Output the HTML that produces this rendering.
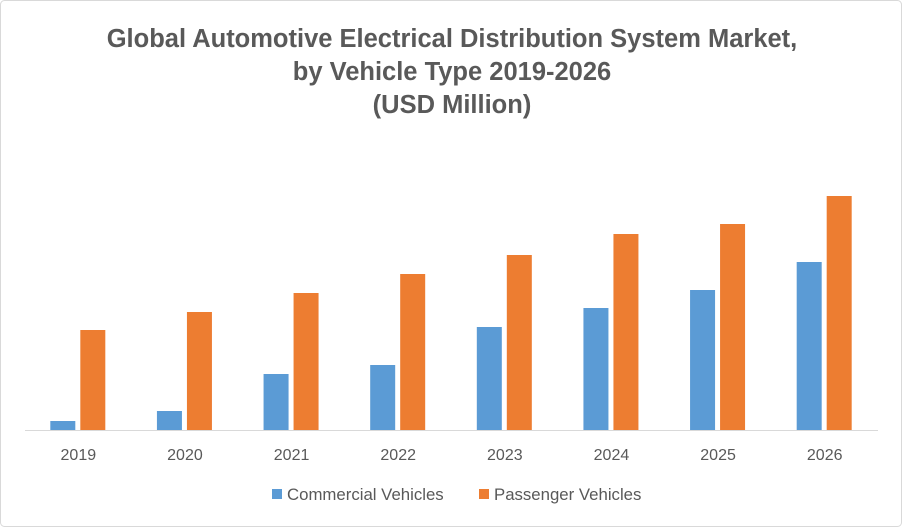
<!DOCTYPE html>
<html><head><meta charset="utf-8"><style>
body{margin:0;background:#fff;}
svg{display:block;font-family:"Liberation Sans",Calibri,sans-serif;}
</style></head><body>
<svg id="chart" width="902" height="527">
<rect x="0.5" y="0.5" width="901" height="526" rx="4" fill="#fff" stroke="#d9d9d9"/>
<g fill="#595959" font-weight="bold" font-size="25.5" text-anchor="middle">
<text x="452" y="47">Global Automotive Electrical Distribution System Market,</text>
<text x="452" y="80">by Vehicle Type 2019-2026</text>
<text x="452" y="113">(USD Million)</text>
</g>
<g id="plot"></g>
<g font-size="16.8" fill="#595959">
<rect x="272" y="489" width="10" height="10" fill="#5b9bd5"/>
<text x="287" y="500">Commercial Vehicles</text>
<rect x="479" y="489" width="10" height="10" fill="#ed7d31"/>
<text x="494" y="500">Passenger Vehicles</text>
</g>
</svg>
<script>
const categories=["2019","2020","2021","2022","2023","2024","2025","2026"];
const commercial=[9,19,56,65,103,122,140,168];
const passenger=[100,118,137,156,175,196,206,234];
const x0=25,x1=878,baseY=430,yScale=1;
const band=(x1-x0)/categories.length;
function xC(i){return x0+band*(i+0.5);}
function y(v){return baseY-v*yScale;}
const ns="http://www.w3.org/2000/svg";
const g=document.getElementById('plot');
function mk(t,a){const e=document.createElementNS(ns,t);for(const k in a)e.setAttribute(k,a[k]);g.appendChild(e);return e;}
categories.forEach((c,i)=>{
  const cx=xC(i);
  const b=mk('rect',{x:cx-28,y:y(commercial[i]),width:25,height:baseY-y(commercial[i]),fill:'#5b9bd5'});
  
  
  const o=mk('rect',{x:cx+2,y:y(passenger[i]),width:25,height:baseY-y(passenger[i]),fill:'#ed7d31'});
  
  
  const t=mk('text',{x:cx,y:460,'text-anchor':'middle','font-size':16,fill:'#595959'});
  t.textContent=c;
  
  
});
const ax=mk('line',{x1:x0,x2:x1,y1:baseY+0.5,y2:baseY+0.5,stroke:'#d9d9d9'});


</script>
</body></html>
